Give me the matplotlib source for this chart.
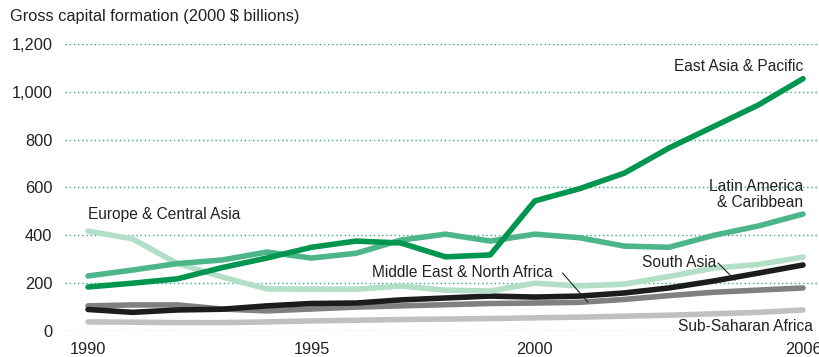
import matplotlib
matplotlib.use("Agg")
import matplotlib.pyplot as plt

plt.rcParams['font.family'] = ['Liberation Sans', 'DejaVu Sans']

years = list(range(1990, 2007))

east_asia = [184, 200, 218, 265, 305, 350, 376, 368, 310, 318, 544, 595, 660, 765, 855, 945, 1055]
latin_america = [230, 255, 282, 297, 330, 305, 325, 380, 405, 376, 405, 390, 355, 350, 400, 439, 489]
europe_central = [418, 385, 282, 226, 176, 175, 175, 188, 171, 167, 200, 188, 196, 228, 263, 278, 309]
south_asia = [90, 78, 88, 91, 105, 115, 117, 130, 138, 146, 142, 146, 159, 180, 209, 242, 276]
middle_east = [105, 109, 109, 92, 84, 92, 100, 105, 110, 115, 117, 120, 132, 148, 162, 171, 180]
sub_saharan = [38, 37, 35, 35, 38, 42, 45, 48, 50, 52, 55, 58, 62, 66, 72, 78, 88]

y_ticks = [0, 200, 400, 600, 800, 1000, 1200]
y_labels = ["0", "200", "400", "600", "800", "1,000", "1,200"]
x_ticks = [1990, 1995, 2000, 2006]

fig = plt.figure(figsize=(8.2, 3.57), dpi=100)
ax = fig.add_axes([65/820, 26/357, 755/820, 287/357])

for yt in y_ticks:
    ax.axhline(yt, color="#2fae7f", lw=1.0, ls=(0, (1, 2)), zorder=0)

series = [
    (sub_saharan, "#c0c0c0"),
    (middle_east, "#808080"),
    (south_asia, "#1c1c1c"),
    (europe_central, "#b3dfc8"),
    (latin_america, "#4db58a"),
    (east_asia, "#00964f"),
]
for vals, col in series:
    ax.plot(years, vals, color=col, lw=4.0, solid_capstyle="round",
            solid_joinstyle="round", clip_on=False)

ax.set_xlim(1989.485, 2006.38)
ax.set_ylim(0, 1200)
ax.set_yticks(y_ticks)
ax.set_yticklabels(y_labels)
ax.set_xticks(x_ticks)
for s in ax.spines.values():
    s.set_visible(False)
ax.tick_params(axis="both", length=0, labelsize=11.8, colors="#222222")
ax.tick_params(axis="y", pad=9)
ax.tick_params(axis="x", pad=8)

tc = "#222222"
fs = 11.2
fig.text(10/820, 1 - 17/357, "Gross capital formation (2000 $ billions)",
         fontsize=11.8, color=tc, va="center", ha="left")
ax.text(2006, 1106, "East Asia & Pacific", fontsize=fs, color=tc, ha="right", va="center")
ax.text(2006, 570, "Latin America\n& Caribbean", fontsize=fs, color=tc, ha="right",
        va="center", linespacing=1.1)
ax.text(1990, 488, "Europe & Central Asia", fontsize=fs, color=tc, ha="left", va="center")
ax.text(1996.35, 245, "Middle East & North Africa", fontsize=fs, color=tc, ha="left", va="center")
ax.text(2002.4, 288, "South Asia", fontsize=fs, color=tc, ha="left", va="center")
ax.text(2003.2, 20, "Sub-Saharan Africa", fontsize=fs, color=tc, ha="left", va="center")

ax.plot([2000.62, 2001.18], [242, 122], color="#222222", lw=0.8)
ax.plot([2004.1, 2004.48], [284, 213], color="#222222", lw=0.8)

fig.savefig("out.png", dpi=100)
